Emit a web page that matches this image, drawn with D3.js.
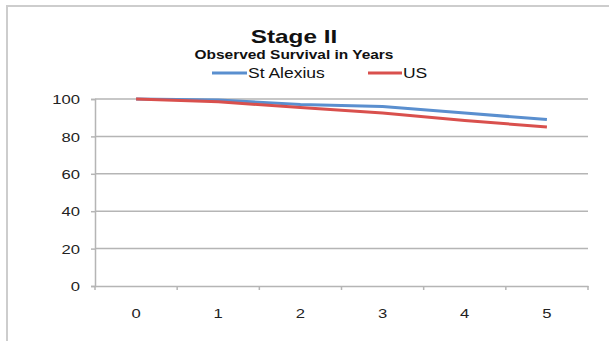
<!DOCTYPE html>
<html><head><meta charset="utf-8">
<script src="https://cdn.jsdelivr.net/npm/d3@7"></script>
<style>html,body{margin:0;padding:0;background:#fff;}svg{display:block;font-family:"Liberation Sans",Arial,sans-serif;}</style>
</head><body>
<script>
const years = ["0","1","2","3","4","5"];
const stAlexius = [100, 99.5, 97, 96, 92.5, 89];
const us = [100, 98.5, 95.5, 92.5, 88.5, 85];
const yTicks = [0, 20, 40, 60, 80, 100];
const seriesNames = ["St Alexius", "US"];
const seriesColors = ["#5a8fcf", "#d9504d"];

(function () {
const W = 609, H = 341;
const svg = d3.select("body").append("svg").attr("width", W).attr("height", H);
svg.append("rect").attr("width", W).attr("height", H).attr("fill", "#fff");
svg.append("rect").attr("x", 7).attr("y", 6).attr("width", 640).attr("height", 400)
  .attr("fill", "none").attr("stroke", "#cdcdcd").attr("stroke-width", 2);

const pLeft = 95, pRight = 588, pTop = 99, pBottom = 286;
const x = d3.scaleBand().domain(years).range([pLeft, pRight]).padding(0);
const y = d3.scaleLinear().domain([0, 100]).range([pBottom, pTop]);
const gridColor = "#b5b5b5";

// gridlines
svg.append("g").selectAll("line").data(yTicks.filter(d => d > 0)).join("line")
  .attr("x1", pLeft).attr("x2", pRight).attr("y1", d => y(d)).attr("y2", d => y(d))
  .attr("stroke", gridColor).attr("stroke-width", 1.5);

// y axis
const sxTick = 1.28;
const gy = svg.append("g").attr("transform", `translate(${pLeft},0)`)
  .call(d3.axisLeft(y).tickValues(yTicks).tickSize(4).tickPadding(0));
gy.select(".domain").attr("stroke", gridColor).attr("stroke-width", 1.5);
gy.selectAll(".tick line").attr("stroke", gridColor).attr("stroke-width", 1.5);
gy.selectAll(".tick text").attr("x", -15 / sxTick).attr("dy", "0.36em")
  .attr("transform", `scale(${sxTick},1)`)
  .attr("font-size", 13).attr("fill", "#222").attr("font-family", "Liberation Sans, Arial, sans-serif");

// x axis
const gx = svg.append("g").attr("transform", `translate(0,${pBottom})`)
  .call(d3.axisBottom(x).tickSize(0).tickPadding(0));
gx.select(".domain").attr("stroke", gridColor).attr("stroke-width", 1.5);
gx.selectAll(".tick text").attr("y", 27).attr("dy", "0.36em")
  .attr("transform", `scale(${sxTick},1)`)
  .attr("font-size", 13).attr("fill", "#222").attr("font-family", "Liberation Sans, Arial, sans-serif");
const bounds = years.map(c => x(c)).concat([pRight]);
gx.append("g").selectAll("line").data(bounds).join("line")
  .attr("x1", d => d).attr("x2", d => d).attr("y1", 0).attr("y2", 4)
  .attr("stroke", gridColor).attr("stroke-width", 1.5);

// lines
const xc = c => x(c) + x.bandwidth() / 2;
const line = d3.line().x((d, i) => xc(years[i])).y(d => y(d));
[stAlexius, us].forEach((s, k) => {
  svg.append("path").datum(s).attr("d", line).attr("fill", "none")
    .attr("stroke", seriesColors[k]).attr("stroke-width", 3).attr("stroke-linejoin", "round");
});

function stext(txt, cx, by, size, weight, sx, anchor) {
  svg.append("text").attr("transform", `translate(${cx},${by}) scale(${sx},1)`)
    .attr("text-anchor", anchor || "middle").attr("font-size", size).attr("font-weight", weight)
    .attr("fill", "#111").text(txt);
}
stext("Stage II", 294, 43, 18, "bold", 1.35);
stext("Observed Survival in Years", 294, 59, 13, "bold", 1.19);

const legY = 73;
const legItems = [
  {x1: 212, x2: 247, tx: 248},
  {x1: 368, x2: 402, tx: 403}
];
legItems.forEach((it, k) => {
  svg.append("line").attr("x1", it.x1).attr("x2", it.x2).attr("y1", legY).attr("y2", legY)
    .attr("stroke", seriesColors[k]).attr("stroke-width", 3);
  stext(seriesNames[k], it.tx, 78, 14, "normal", 1.25, "start");
});
})();
</script>
</body></html>
